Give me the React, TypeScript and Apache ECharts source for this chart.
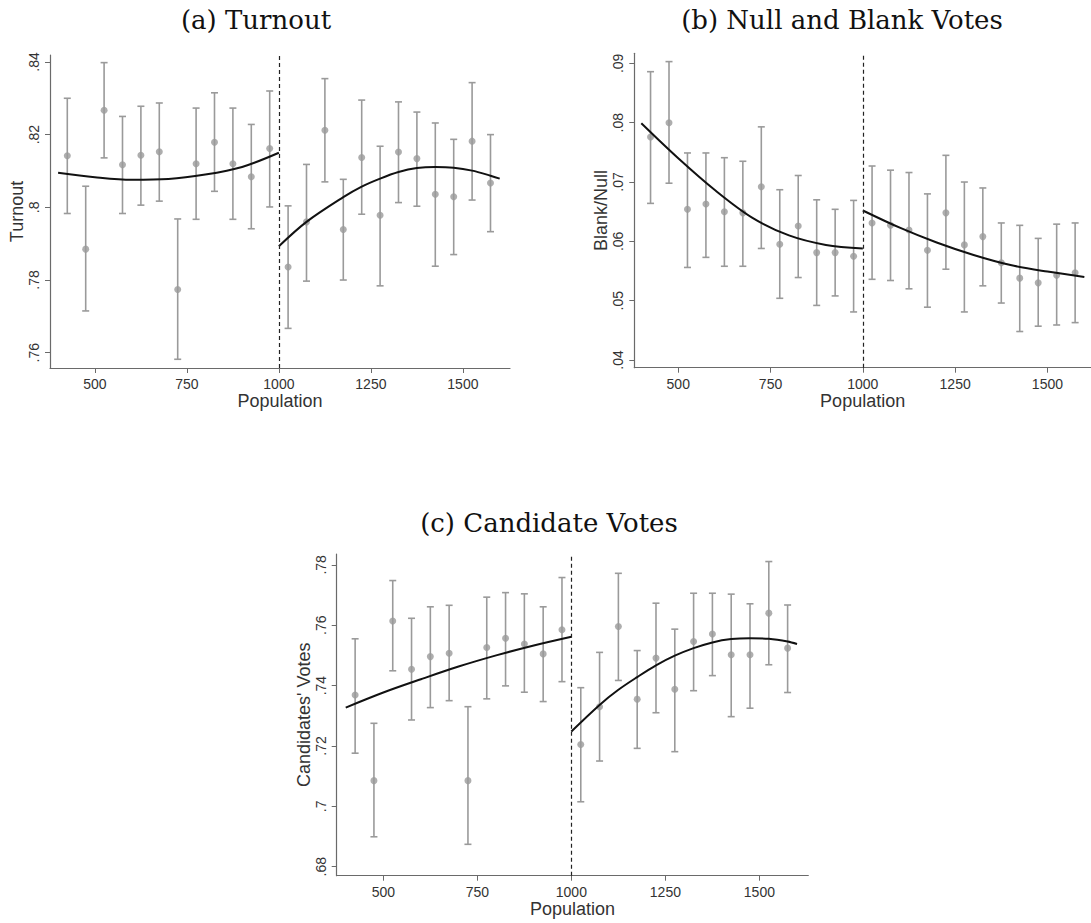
import React, { useEffect, useRef } from "react";
import * as echarts from "echarts";

// ---------- data ----------
const bins = [425, 475, 525, 575, 625, 675, 725, 775, 825, 875, 925, 975, 1025, 1075, 1125, 1175, 1225, 1275, 1325, 1375, 1425, 1475, 1525, 1575];

const turnoutMean = [0.8142, 0.7885, 0.8267, 0.8117, 0.8143, 0.8153, 0.7774, 0.812, 0.8179, 0.812, 0.8084, 0.8162, 0.7836, 0.796, 0.8212, 0.7939, 0.8137, 0.7978, 0.8152, 0.8134, 0.8036, 0.8029, 0.8182, 0.8067];
const turnoutLo = [0.7983, 0.7715, 0.8136, 0.7983, 0.8006, 0.8017, 0.7582, 0.7967, 0.8044, 0.7967, 0.7941, 0.8001, 0.7667, 0.7797, 0.807, 0.78, 0.7981, 0.7784, 0.8013, 0.8003, 0.7838, 0.787, 0.802, 0.7933];
const turnoutHi = [0.83, 0.8058, 0.8398, 0.825, 0.8278, 0.8287, 0.7968, 0.8273, 0.8315, 0.8273, 0.8228, 0.832, 0.8004, 0.8118, 0.8354, 0.8077, 0.8295, 0.8168, 0.829, 0.8262, 0.8232, 0.8187, 0.8343, 0.82];

const blankMean = [0.0776, 0.08, 0.0654, 0.0663, 0.065, 0.0648, 0.0692, 0.0595, 0.0626, 0.0581, 0.0581, 0.0575, 0.0631, 0.0627, 0.0619, 0.0585, 0.0648, 0.0594, 0.0608, 0.0564, 0.0538, 0.053, 0.0543, 0.0547];
const blankLo = [0.0664, 0.0698, 0.0556, 0.0573, 0.0558, 0.0558, 0.0588, 0.0504, 0.0539, 0.0492, 0.0508, 0.0481, 0.0536, 0.0534, 0.052, 0.0489, 0.0553, 0.0481, 0.0525, 0.0496, 0.0448, 0.0457, 0.0459, 0.0463];
const blankHi = [0.0886, 0.0903, 0.0749, 0.0749, 0.0741, 0.0735, 0.0793, 0.0687, 0.0711, 0.067, 0.0654, 0.0669, 0.0727, 0.072, 0.0716, 0.068, 0.0745, 0.07, 0.069, 0.0631, 0.0627, 0.0605, 0.0629, 0.0631];

const candMean = [0.7369, 0.7085, 0.7614, 0.7454, 0.7496, 0.7507, 0.7085, 0.7526, 0.7557, 0.7538, 0.7505, 0.7585, 0.7205, 0.733, 0.7596, 0.7355, 0.7491, 0.7388, 0.7546, 0.7571, 0.7502, 0.7502, 0.764, 0.7524];
const candLo = [0.7176, 0.6899, 0.7449, 0.7286, 0.7327, 0.735, 0.6874, 0.7356, 0.7399, 0.7378, 0.7347, 0.7413, 0.7015, 0.715, 0.7417, 0.7192, 0.731, 0.7181, 0.7383, 0.7433, 0.7297, 0.7325, 0.7469, 0.7377];
const candHi = [0.7555, 0.7275, 0.7748, 0.7623, 0.7661, 0.7666, 0.733, 0.7693, 0.7708, 0.7704, 0.7661, 0.7758, 0.7393, 0.751, 0.7772, 0.7516, 0.7673, 0.7587, 0.7706, 0.7706, 0.7703, 0.7671, 0.7811, 0.7667];

// fitted curves
const fitLeftX = [400, 500, 600, 700, 800, 900, 1000];
const turnoutFitL = [0.8095, 0.8083, 0.8076, 0.8078, 0.809, 0.8111, 0.815];
const blankFitL = [0.0799, 0.074, 0.0686, 0.064, 0.061, 0.0594, 0.0588];
const candFitL = [0.7327, 0.7377, 0.7421, 0.7463, 0.75, 0.7533, 0.7562];

const turnoutFitRX = [1000, 1075, 1175, 1225, 1275, 1325, 1375, 1425, 1475, 1525, 1575, 1600];
const turnoutFitR = [0.7893, 0.796, 0.8028, 0.8057, 0.8079, 0.8097, 0.8108, 0.8111, 0.8109, 0.8101, 0.8087, 0.8079];
const blankFitRX = [1000, 1100, 1200, 1300, 1400, 1500, 1600];
const blankFitR = [0.0652, 0.0623, 0.0598, 0.0577, 0.056, 0.0549, 0.054];
const candFitRX = [1000, 1075, 1125, 1175, 1225, 1275, 1325, 1375, 1425, 1475, 1525, 1575, 1600];
const candFitR = [0.7248, 0.7336, 0.7386, 0.7428, 0.7467, 0.7499, 0.7524, 0.7543, 0.7554, 0.7557, 0.7555, 0.7546, 0.7538];

const cutoff = 1000;
const xTicks = [500, 750, 1000, 1250, 1500];
const yTicksA = [0.76, 0.78, 0.8, 0.82, 0.84];
const yTicksB = [0.04, 0.05, 0.06, 0.07, 0.08, 0.09];
const yTicksC = [0.68, 0.7, 0.72, 0.74, 0.76, 0.78];

const titles = ["(a) Turnout", "(b) Null and Blank Votes", "(c) Candidate Votes"];
const yNames = ["Turnout", "Blank/Null", "Candidates' Votes"];
const xName = "Population";

// ---------- layout / style ----------
const GRAY = "#9a9a9a";
const AXIS = "#6a6a6a";
const TXT = "#333333";
const SANS = "Liberation Sans, Arial, sans-serif";

const panels = [
  { grid: { left: 50, top: 55, width: 460, height: 313 }, xr: [378, 1628], yr: [0.7558, 0.8419], yTicks: yTicksA, mean: turnoutMean, lo: turnoutLo, hi: turnoutHi, flx: fitLeftX, fl: turnoutFitL, frx: turnoutFitRX, fr: turnoutFitR, title: [256, 20] },
  { grid: { left: 634.3, top: 53.3, width: 456.7, height: 314.4 }, xr: [381, 1618], yr: [0.0387, 0.0917], yTicks: yTicksB, mean: blankMean, lo: blankLo, hi: blankHi, flx: fitLeftX, fl: blankFitL, frx: blankFitRX, fr: blankFitR, title: [842, 20] },
  { grid: { left: 336.7, top: 554, width: 471.6, height: 321.7 }, xr: [376, 1630], yr: [0.677, 0.7836], yTicks: yTicksC, mean: candMean, lo: candLo, hi: candHi, flx: fitLeftX, fl: candFitL, frx: candFitRX, fr: candFitR, title: [549, 523] },
];

const fmt = (v: number) => {
  const s = String(Math.round(v * 10000) / 10000);
  return s.replace(/^0\./, ".");
};

export default function App() {
  const ref = useRef<HTMLDivElement>(null);
  useEffect(() => {
    if (!ref.current) return;
    const chart = echarts.init(ref.current, undefined, { renderer: "svg" });
    const grid: any[] = [];
    const xAxis: any[] = [];
    const yAxis: any[] = [];
    const series: any[] = [];
    const graphic: any[] = [];

    panels.forEach((p, i) => {
      grid.push({ ...p.grid, containLabel: false });
      xAxis.push({
        type: "value",
        gridIndex: i,
        min: p.xr[0],
        max: p.xr[1],
        name: xName,
        nameLocation: "middle",
        nameGap: 22,
        nameTextStyle: { fontFamily: SANS, fontSize: 18, color: TXT, verticalAlign: "top" },
        axisLine: { show: true, lineStyle: { color: AXIS, width: 1.2 } },
        axisTick: { show: true, length: 5, lineStyle: { color: AXIS }, customValues: xTicks },
        axisLabel: { fontFamily: SANS, fontSize: 14, color: TXT, margin: 9, customValues: xTicks, formatter: (v: number) => String(v) },
        splitLine: { show: false },
      });
      yAxis.push({
        type: "value",
        gridIndex: i,
        min: p.yr[0],
        max: p.yr[1],
        name: yNames[i],
        nameLocation: "middle",
        nameRotate: 90,
        nameGap: 24,
        nameTextStyle: { fontFamily: SANS, fontSize: 18, color: TXT },
        axisLine: { show: true, lineStyle: { color: AXIS, width: 1.2 } },
        axisTick: { show: true, length: 5, lineStyle: { color: AXIS }, customValues: p.yTicks },
        axisLabel: { fontFamily: SANS, fontSize: 14, color: TXT, margin: 9, rotate: 90, customValues: p.yTicks, formatter: (v: number) => fmt(v) },
        splitLine: { show: false },
      });

      // error bars
      series.push({
        type: "custom",
        xAxisIndex: i,
        yAxisIndex: i,
        data: bins.map((b, k) => [b, p.lo[k], p.hi[k]]),
        encode: { x: 0, y: [1, 2] },
        renderItem: (params: any, api: any) => {
          const x = api.value(0);
          const a = api.coord([x, api.value(1)]);
          const b = api.coord([x, api.value(2)]);
          const w = 3.5;
          const st = { stroke: GRAY, lineWidth: 1.6 };
          return {
            type: "group",
            children: [
              { type: "line", shape: { x1: a[0], y1: a[1], x2: b[0], y2: b[1] }, style: st },
              { type: "line", shape: { x1: a[0] - w, y1: a[1], x2: a[0] + w, y2: a[1] }, style: st },
              { type: "line", shape: { x1: b[0] - w, y1: b[1], x2: b[0] + w, y2: b[1] }, style: st },
            ],
          };
        },
        z: 2,
      });
      // means
      series.push({
        type: "scatter",
        xAxisIndex: i,
        yAxisIndex: i,
        data: bins.map((b, k) => [b, p.mean[k]]),
        symbol: "circle",
        symbolSize: 7,
        itemStyle: { color: GRAY },
        z: 3,
      });
      // fits
      series.push({
        type: "line",
        xAxisIndex: i,
        yAxisIndex: i,
        data: p.flx.map((x, k) => [x, p.fl[k]]),
        smooth: 0.33,
        showSymbol: false,
        lineStyle: { color: "#111", width: 2 },
        z: 4,
        markLine: {
          silent: true,
          symbol: ["none", "none"],
          label: { show: false },
          lineStyle: { color: "#222", type: [4, 3], width: 1.2 },
          data: [{ xAxis: cutoff }],
        },
      });
      series.push({
        type: "line",
        xAxisIndex: i,
        yAxisIndex: i,
        data: p.frx.map((x, k) => [x, p.fr[k]]),
        smooth: 0.33,
        showSymbol: false,
        lineStyle: { color: "#111", width: 2 },
        z: 4,
      });

      graphic.push({
        type: "text",
        x: p.title[0],
        y: p.title[1],
        style: {
          text: titles[i],
          font: "26px 'DejaVu Serif', serif",
          fill: "#111",
          textAlign: "center",
          textVerticalAlign: "middle",
          align: "center",
          verticalAlign: "middle",
        },
      });
    });

    chart.setOption({
      animation: false,
      backgroundColor: "#ffffff",
      grid,
      xAxis,
      yAxis,
      series,
      graphic,
    });
    return () => chart.dispose();
  }, []);

  return <div ref={ref} style={{ position: "absolute", left: 0, top: 0, width: 1091, height: 923 }} />;
}
